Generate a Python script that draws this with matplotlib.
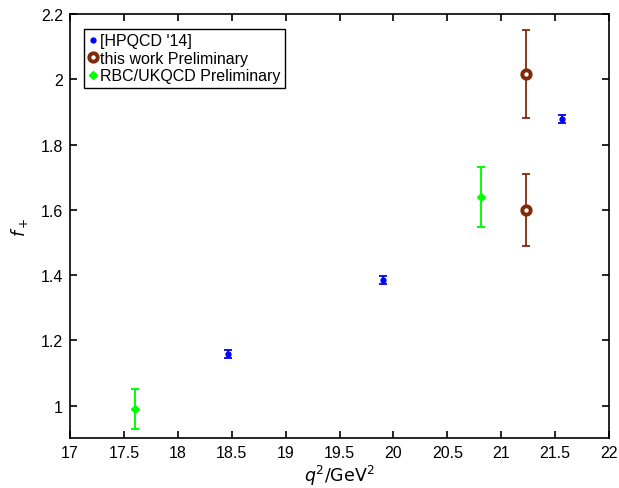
import numpy as np
import matplotlib
matplotlib.use("Agg")
from matplotlib import pyplot as plt
from matplotlib.lines import Line2D

plt.rcParams["font.family"] = ["Liberation Sans", "DejaVu Sans"]

hpqcd_q2 = [18.47, 19.90, 21.56]
hpqcd_f = [1.158, 1.385, 1.878]
hpqcd_err = [0.012, 0.011, 0.012]

work_q2 = [21.23, 21.23]
work_f = [2.017, 1.600]
work_err = [0.135, 0.110]

rbc_q2 = [17.60, 20.81]
rbc_f = [0.990, 1.640]
rbc_err = [0.061, 0.092]

BLUE = "#0000ff"
BROWN = "#7f2a08"
GREEN = "#00ff00"

fig = plt.figure(figsize=(6.19, 4.89), dpi=100)
ax = fig.add_axes([0.113, 0.102, 0.871, 0.867])

ax.errorbar(hpqcd_q2, hpqcd_f, yerr=hpqcd_err, fmt="o", color=BLUE,
            ms=3.5, capsize=3, elinewidth=1.3, capthick=1.3)
# error bars first, then the thick-edged circles on top (mew would thicken caps)
ax.errorbar(work_q2, work_f, yerr=work_err, fmt="none", ecolor=BROWN,
            capsize=3, elinewidth=1.3, capthick=1.3)
ax.plot(work_q2, work_f, ls="none", marker="o", mfc="#ffffff", mec=BROWN,
        mew=2.8, ms=6)
ax.errorbar(rbc_q2, rbc_f, yerr=rbc_err, fmt="D", color=GREEN,
            ms=4.5, capsize=3, elinewidth=1.4, capthick=1.4)

ax.set_xlim(17, 22)
ax.set_ylim(0.9, 2.2)
ax.set_xticks(np.arange(17, 22.01, 0.5))
ax.set_xticklabels(["17", "17.5", "18", "18.5", "19", "19.5", "20", "20.5", "21", "21.5", "22"])
ax.set_yticks([1, 1.2, 1.4, 1.6, 1.8, 2, 2.2])
ax.set_yticklabels(["1", "1.2", "1.4", "1.6", "1.8", "2", "2.2"])
ax.tick_params(direction="in", top=True, right=True, length=5, width=1.2,
               labelsize=11.5, pad=5)
for s in ax.spines.values():
    s.set_linewidth(1.2)
ax.set_xlabel(r"$q^2/\mathrm{GeV}^2$", fontsize=12.5, labelpad=2)
ax.set_ylabel(r"$f_+$", fontsize=12.5, labelpad=8)

handles = [
    Line2D([], [], ls="none", marker="o", color=BLUE, ms=3.5),
    Line2D([], [], ls="none", marker="o", mfc="#ffffff", mec=BROWN, mew=2.8, ms=6),
    Line2D([], [], ls="none", marker="D", color=GREEN, ms=4.5),
]
labels = ["[HPQCD '14]", "this work Preliminary", "RBC/UKQCD Preliminary"]
leg = ax.legend(handles, labels, loc="upper left", fontsize=11.5, frameon=True,
                fancybox=False, handlelength=0.5, handletextpad=0.2,
                borderpad=0.3, labelspacing=0.15, borderaxespad=0.9)
leg.get_frame().set_edgecolor("black")
leg.get_frame().set_linewidth(1.0)
leg.get_frame().set_alpha(1)

fig.savefig("out.png", dpi=100)
